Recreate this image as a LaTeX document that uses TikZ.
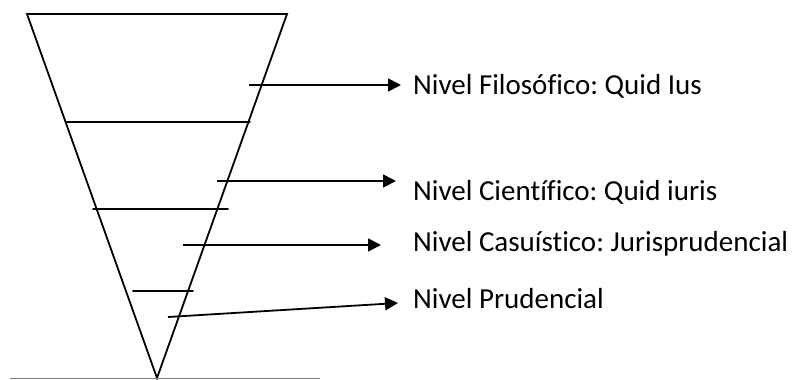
\documentclass[tikz,border=0pt]{standalone}
\usepackage{fontspec}
\setmainfont[Ligatures={NoCommon}]{Carlito}
\usetikzlibrary{arrows.meta}
\frenchspacing
\begin{document}
\begin{tikzpicture}[x=1pt,y=-1pt,
  edge/.style={line width=1.8pt,line cap=round},
  arr/.style={line width=1.8pt,-{Triangle[length=13pt,width=13pt]}},
  lbl/.style={anchor=west,inner sep=0pt,font=\fontsize{29}{34}\selectfont}]
\useasboundingbox (0,0) rectangle (796,380);
\coordinate (tl) at (27,14);
\coordinate (tr) at (287,14);
\coordinate (ap) at (157,378);
\draw[edge,line join=miter] (tl) -- (tr) -- (ap) -- cycle;
\coordinate (b1) at (10,378.5);
\coordinate (b2) at (320,378.5);
\draw[gray,line width=1pt] (b1) -- (b2);
% level lines
\coordinate (h1a) at (66,122); \coordinate (h1b) at (250,122);
\coordinate (h2a) at (93,209); \coordinate (h2b) at (228,209);
\coordinate (h3a) at (133,291); \coordinate (h3b) at (193,291);
\draw[edge] (h1a) -- (h1b);
\draw[edge] (h2a) -- (h2b);
\draw[edge] (h3a) -- (h3b);
% labels
\node[lbl] (t1) at (413,86) {Nivel Filosófico: Quid Ius};
\node[lbl] (t2) at (413,192) {Nivel Científico: Quid iuris};
\node[lbl] (t3) at (413,244) {Nivel Casuístico: Jurisprudencial};
\node[lbl] (t4) at (413,299) {Nivel Prudencial};
% arrows
\coordinate (a1) at (249,85); \coordinate (e1) at (401,85);
\coordinate (a2) at (217,181); \coordinate (e2) at (396,181);
\coordinate (a3) at (183,245); \coordinate (e3) at (381,245);
\coordinate (a4) at (168,317); \coordinate (e4) at (398,303);
\draw[arr] (a1) -- (e1);
\draw[arr] (a2) -- (e2);
\draw[arr] (a3) -- (e3);
\draw[arr] (a4) -- (e4);
\end{tikzpicture}
\end{document}
